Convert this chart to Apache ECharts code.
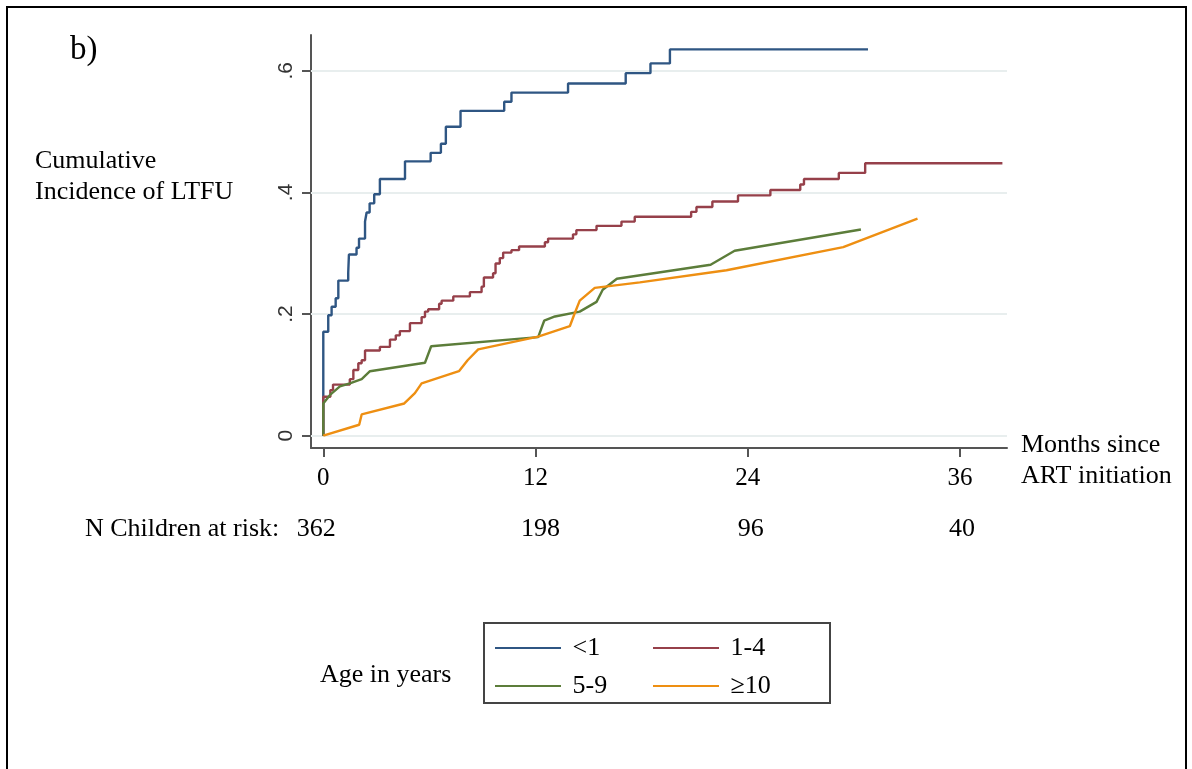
<!DOCTYPE html>
<html><head><meta charset="utf-8">
<script src="https://cdn.jsdelivr.net/npm/echarts@6/dist/echarts.min.js"></script>
<style>html,body{margin:0;padding:0;background:#fff}#c{width:1192px;height:769px}</style>
</head><body><div id="c"></div>
<script>
// ---- data ----
const seriesNames = ['<1', '1-4', '5-9', '≥10'];
const xTicks = [0, 12, 24, 36];
const xTickLabels = ['0', '12', '24', '36'];
const yTicks = [0, 0.2, 0.4, 0.6];
const yTickLabels = ['0', '.2', '.4', '.6'];
const atRiskN = [362, 198, 96, 40];

const ageUnder1 = [[0,0],[0,0.155],[0,0.171],[0.28,0.198],[0.47,0.212],[0.70,0.226],[0.85,0.255],[1.41,0.268],[1.45,0.298],[1.88,0.309],[2.02,0.324],[2.36,0.352],[2.45,0.367],[2.62,0.382],[2.88,0.397],[3.2,0.422],[4.62,0.451],[6.07,0.465],[6.65,0.48],[6.93,0.508],[7.76,0.534],[10.23,0.549],[10.64,0.564],[13.84,0.579],[17.1,0.596],[18.5,0.612],[19.6,0.635],[30.8,0.635]];
const age1to4 = [[0,0],[0,0.064],[0.4,0.075],[0.55,0.084],[1.5,0.093],[1.7,0.108],[1.98,0.119],[2.17,0.124],[2.36,0.140],[3.2,0.146],[3.77,0.158],[4.1,0.165],[4.33,0.172],[4.9,0.185],[5.56,0.195],[5.75,0.204],[5.93,0.208],[6.55,0.217],[6.69,0.222],[7.35,0.229],[8.29,0.236],[8.95,0.245],[9.08,0.260],[9.6,0.267],[9.74,0.283],[9.98,0.292],[10.17,0.301],[10.64,0.305],[11.07,0.311],[12.53,0.318],[12.71,0.324],[14.12,0.331],[14.31,0.338],[15.45,0.345],[16.86,0.352],[17.61,0.360],[20.8,0.368],[21.1,0.376],[22.0,0.385],[23.45,0.395],[25.28,0.404],[26.97,0.413],[27.18,0.422],[29.15,0.432],[30.64,0.448],[38.4,0.448]];
const age5to9 = [[0,0],[0,0.053],[0.38,0.067],[0.94,0.081],[1.5,0.086],[2.17,0.093],[2.64,0.106],[5.75,0.120],[6.1,0.147],[12.15,0.162],[12.49,0.189],[13.1,0.196],[14.5,0.204],[15.45,0.22],[15.8,0.24],[16.6,0.258],[21.9,0.281],[23.26,0.304],[30.4,0.339]];
const age10plus = [[0,0],[2.03,0.018],[2.17,0.035],[4.58,0.053],[5.18,0.070],[5.56,0.086],[7.67,0.106],[8.16,0.124],[8.76,0.142],[12.15,0.163],[13.94,0.180],[14.2,0.200],[14.5,0.222],[15.35,0.243],[17.9,0.252],[22.8,0.272],[29.4,0.310],[33.6,0.357]];

// ---- styles / layout ----
const colors = ['#2f5683', '#96404a', '#5c7d3a', '#ee8f12'];
const SERIF = '"Liberation Serif","Times New Roman",serif';
const SANS = '"Liberation Sans",Arial,sans-serif';
const riskLabelDx = [-7, 5, 3, 2];

const chart = echarts.init(document.getElementById('c'), null, {renderer: 'canvas'});

function lineSeries(name, data, color, step) {
  return {
    name: name, type: 'line', data: data, step: step ? 'end' : false,
    showSymbol: false, symbol: 'none', z: 3,
    lineStyle: {color: color, width: 2.4}, itemStyle: {color: color},
    emphasis: {disabled: true}
  };
}

const legendCommon = {
  orient: 'vertical', icon: 'rect', itemWidth: 66, itemHeight: 2,
  itemGap: 12, selectedMode: false,
  textStyle: {fontFamily: SERIF, fontSize: 26, color: '#000'},
  formatter: n => ' ' + n
};

chart.setOption({
  animation: false,
  backgroundColor: '#fff',
  grid: {left: 311, top: 35, width: 696, height: 413},
  xAxis: {
    type: 'value', min: -0.695, max: 38.66,
    axisLine: {show: true, onZero: false, lineStyle: {color: '#555', width: 2}},
    axisTick: {show: true, length: 9, customValues: xTicks, lineStyle: {color: '#555', width: 2}},
    axisLabel: {customValues: xTicks, margin: 18, fontFamily: SERIF, fontSize: 25, color: '#000',
      formatter: v => xTickLabels[xTicks.indexOf(v)]},
    splitLine: {show: false}
  },
  yAxis: {
    type: 'value', min: -0.0202, max: 0.6587,
    axisLine: {show: true, onZero: false, lineStyle: {color: '#555', width: 2}},
    axisTick: {show: true, length: 9, customValues: yTicks, lineStyle: {color: '#555', width: 2}},
    axisLabel: {customValues: yTicks, rotate: 90, margin: 14, fontFamily: SANS, fontSize: 21, color: '#333',
      formatter: v => yTickLabels[yTicks.indexOf(v)]},
    splitLine: {show: false}
  },
  legend: [
    Object.assign({}, legendCommon, {left: 490, top: 630, data: [seriesNames[0], seriesNames[2]]}),
    Object.assign({}, legendCommon, {left: 648, top: 630, data: [seriesNames[1], seriesNames[3]]})
  ],
  series: [
    {
      type: 'line', data: [], z: 1, silent: true,
      markLine: {
        silent: true, symbol: 'none', z: 1, animation: false,
        label: {show: false},
        lineStyle: {color: '#e8eeee', width: 2, type: 'solid'},
        emphasis: {disabled: true},
        data: yTicks.map(v => ({yAxis: v}))
      }
    },
    lineSeries(seriesNames[0], ageUnder1, colors[0], true),
    lineSeries(seriesNames[1], age1to4, colors[1], true),
    lineSeries(seriesNames[2], age5to9, colors[2], false),
    lineSeries(seriesNames[3], age10plus, colors[3], false)
  ]
});

const riskY = 529;
const riskTexts = atRiskN.map((n, i) => ({
  type: 'text', silent: true,
  x: chart.convertToPixel({xAxisIndex: 0}, xTicks[i]) + riskLabelDx[i], y: riskY,
  style: {text: String(n), fontFamily: SERIF, fontSize: 26, fill: '#000', align: 'center', verticalAlign: 'middle'}
}));

chart.setOption({
  graphic: [
    {type: 'rect', silent: true, shape: {x: 7, y: 7, width: 1179, height: 780},
      style: {fill: 'none', stroke: '#000', lineWidth: 2}},
    {type: 'text', silent: true, x: 70, y: 50,
      style: {text: 'b)', fontFamily: SERIF, fontSize: 33, fill: '#000', verticalAlign: 'middle'}},
    {type: 'text', silent: true, x: 35, y: 146,
      style: {text: 'Cumulative\nIncidence of LTFU', fontFamily: SERIF, fontSize: 26, lineHeight: 31, fill: '#000', verticalAlign: 'top'}},
    {type: 'text', silent: true, x: 1021, y: 430,
      style: {text: 'Months since\nART initiation', fontFamily: SERIF, fontSize: 26, lineHeight: 31, fill: '#000', verticalAlign: 'top'}},
    {type: 'text', silent: true, x: 85, y: riskY,
      style: {text: 'N Children at risk:', fontFamily: SERIF, fontSize: 26, fill: '#000', verticalAlign: 'middle'}},
    {type: 'text', silent: true, x: 320, y: 675,
      style: {text: 'Age in years', fontFamily: SERIF, fontSize: 26, fill: '#000', verticalAlign: 'middle'}},
    {type: 'rect', silent: true, shape: {x: 484, y: 623, width: 346, height: 80},
      style: {fill: 'none', stroke: '#444', lineWidth: 2}}
  ].concat(riskTexts)
});
</script>
</body></html>
